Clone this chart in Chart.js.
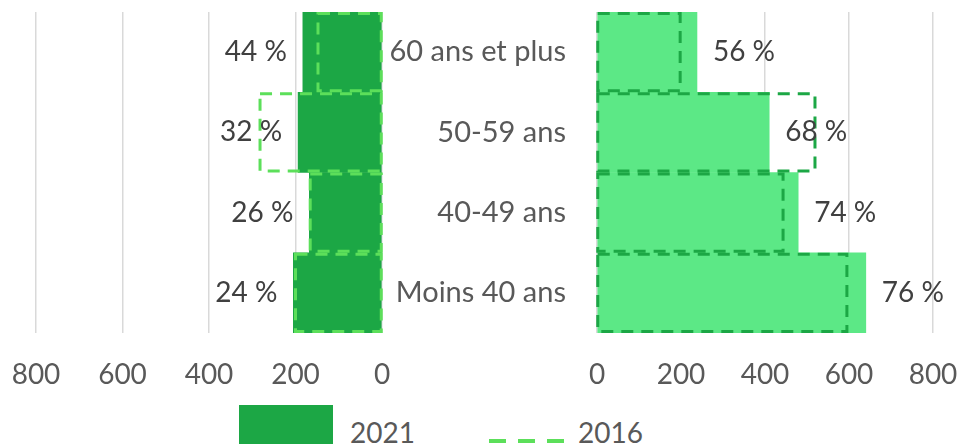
<!DOCTYPE html>
<html>
<head>
<meta charset="utf-8">
<script src="https://cdn.jsdelivr.net/npm/chart.js@4"></script>
<style>
  body { margin: 0; background: #fff; width: 959px; height: 444px; overflow: hidden; position: relative; font-family: Lato, sans-serif; }
  .wrap { position: absolute; top: 0; height: 395px; }
  #leftWrap { left: 0; width: 390px; }
  #rightWrap { left: 390px; width: 569px; }
  .legend-box { position: absolute; left: 239px; top: 405px; width: 94px; height: 39px; background: #1ca745; }
  .legend-dash { position: absolute; left: 489px; top: 439px; width: 76px; height: 4px;
    background: repeating-linear-gradient(90deg, #5cdf5a 0 17px, transparent 17px 29px); }
  .legend-text { position: absolute; top: 416px; font-size: 28px; color: #595959; line-height: 32px; }
</style>
</head>
<body>
<div class="wrap" id="leftWrap"><canvas id="leftChart"></canvas></div>
<div class="wrap" id="rightWrap"><canvas id="rightChart"></canvas></div>
<div class="legend-box"></div>
<div class="legend-text" style="left:350px">2021</div>
<div class="legend-dash"></div>
<div class="legend-text" style="left:578px">2016</div>
<script>
// DATA
var categories = ['60 ans et plus', '50-59 ans', '40-49 ans', 'Moins 40 ans'];
var left2021 = [183, 194, 168, 205];
var left2016 = [148, 282, 166, 200];
var leftPct = ['44 %', '32 %', '26 %', '24 %'];
var right2021 = [238, 410, 479, 640];
var right2016 = [198, 519, 443, 595];
var rightPct = ['56 %', '68 %', '74 %', '76 %'];
var tickValues = [0, 200, 400, 600, 800];

Chart.defaults.font.family = 'Lato, sans-serif';
Chart.defaults.font.size = 28;
Chart.defaults.color = '#595959';
Chart.defaults.animation = false;

// dashed outline for the 2016 bars + percent labels next to 2021 bars
var barExtras = {
    id: 'barExtras',
    afterDatasetsDraw: function (chart, args, opts) {
        var ctx = chart.ctx;
        var dashed = chart.getDatasetMeta(1);
        ctx.save();
        ctx.strokeStyle = opts.dashColor;
        ctx.lineWidth = 3;
        ctx.setLineDash([12, 8]);
        dashed.data.forEach(function (bar) {
            var p = bar.getProps(['x', 'y', 'base', 'height'], true);
            var l = Math.min(p.x, p.base), r = Math.max(p.x, p.base);
            ctx.strokeRect(l, p.y - p.height / 2 + 1.5, r - l, p.height - 3);
        });
        ctx.restore();

        var filled = chart.getDatasetMeta(0);
        ctx.save();
        ctx.font = '28px Lato, sans-serif';
        ctx.fillStyle = '#404040';
        ctx.textBaseline = 'middle';
        filled.data.forEach(function (bar, i) {
            var p = bar.getProps(['x', 'y', 'base'], true);
            if (p.x < p.base) {
                ctx.textAlign = 'right';
                ctx.fillText(opts.labels[i], p.x - 16, p.y);
            } else {
                ctx.textAlign = 'left';
                ctx.fillText(opts.labels[i], p.x + 16, p.y);
            }
        });
        ctx.restore();
    }
};

function xScale(reverse) {
    return {
        min: 0,
        max: 800,
        reverse: reverse,
        afterBuildTicks: function (axis) {
            axis.ticks = tickValues.map(function (v) { return { value: v }; });
        },
        afterFit: function (axis) {
            axis.height = 62;
            axis.paddingLeft = 0;
            axis.paddingRight = 0;
        },
        grid: { color: '#d9d9d9', lineWidth: 1.5, drawTicks: false },
        border: { display: false },
        ticks: { padding: 25, color: '#595959' }
    };
}

// LEFT (2021 filled dark, 2016 dashed light)
var ctxL = document.getElementById('leftChart');
var leftChart = new Chart(ctxL, {
    type: 'bar',
    data: {
        labels: categories,
        datasets: [{
            label: '2021',
            data: left2021,
            backgroundColor: '#1ca745',
            grouped: false,
            barPercentage: 1,
            categoryPercentage: 1
        }, {
            label: '2016',
            data: left2016,
            backgroundColor: 'rgba(0,0,0,0)',
            grouped: false,
            barPercentage: 1,
            categoryPercentage: 1
        }]
    },
    options: {
        indexAxis: 'y',
        responsive: true,
        maintainAspectRatio: false,
        layout: { padding: { top: 12, left: 36, right: 8, bottom: 0 } },
        plugins: {
            legend: { display: false },
            tooltip: { enabled: false },
            barExtras: { dashColor: '#5cdf5a', labels: leftPct }
        },
        scales: {
            x: xScale(true),
            y: { display: false }
        }
    },
    plugins: [barExtras]
});

// RIGHT (2021 filled light, 2016 dashed dark)
var ctxR = document.getElementById('rightChart');
var rightChart = new Chart(ctxR, {
    type: 'bar',
    data: {
        labels: categories,
        datasets: [{
            label: '2021',
            data: right2021,
            backgroundColor: '#5ce886',
            grouped: false,
            barPercentage: 1,
            categoryPercentage: 1
        }, {
            label: '2016',
            data: right2016,
            backgroundColor: 'rgba(0,0,0,0)',
            grouped: false,
            barPercentage: 1,
            categoryPercentage: 1
        }]
    },
    options: {
        indexAxis: 'y',
        responsive: true,
        maintainAspectRatio: false,
        layout: { padding: { top: 12, left: 0, right: 26, bottom: 0 } },
        plugins: {
            legend: { display: false },
            tooltip: { enabled: false },
            barExtras: { dashColor: '#1ca745', labels: rightPct }
        },
        scales: {
            x: xScale(false),
            y: {
                grid: { display: false, drawTicks: false },
                border: { display: false },
                ticks: { padding: 31, color: '#595959', font: { size: 29 } },
                afterFit: function (axis) {
                    axis.width = 207;
                    axis.paddingTop = 0;
                    axis.paddingBottom = 0;
                }
            }
        }
    },
    plugins: [barExtras]
});
</script>
</body>
</html>
